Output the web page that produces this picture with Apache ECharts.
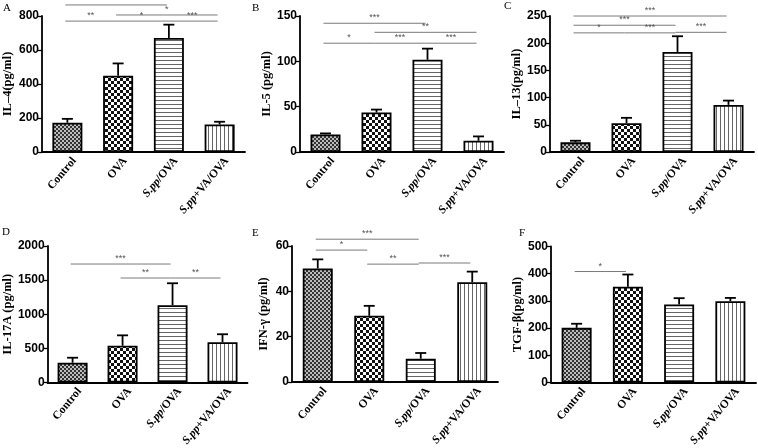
<!DOCTYPE html>
<html><head><meta charset="utf-8">
<script src="https://cdn.jsdelivr.net/npm/echarts@6/dist/echarts.min.js"></script>
<style>html,body{margin:0;padding:0;background:#fff}#c{width:758px;height:448px}</style>
</head><body><div id="c"></div>
<script>
// ---- data ----
const categories = ['Control', 'OVA', 'S.pp/OVA', 'S.pp+VA/OVA'];
const panelLetters = ['A', 'B', 'C', 'D', 'E', 'F'];
const yTitles = ['IL–4(pg/ml)', 'IL-5 (pg/ml)', 'IL–13(pg/ml)', 'IL-17A (pg/ml)', 'IFN-γ (pg/ml)', 'TGF-β(pg/ml)'];
const yMax = [800, 150, 250, 2000, 60, 500];
const yStep = [200, 50, 50, 500, 20, 100];

const il4Mean = [172, 449, 671, 162];
const il4Sem = [23, 72, 78, 16];
const il5Mean = [19.4, 43.5, 101.7, 12.4];
const il5Sem = [1.1, 3.3, 12.3, 4.8];
const il13Mean = [17.7, 53, 184, 86.6];
const il13Sem = [3, 9.8, 28.8, 7.9];
const il17Mean = [289, 539, 1132, 590];
const il17Sem = [74, 152, 322, 117];
const ifngMean = [50.1, 29.2, 10.3, 44];
const ifngSem = [4, 4.4, 2.5, 4.7];
const tgfbMean = [201, 352, 287, 299];
const tgfbSem = [15, 45, 23, 12];

// significance brackets: [fromCategory, toCategory, yValue, stars]
const il4Sig = [[0, 2, 865, '***'], [1, 3, 806, '*'], [0, 1, 770, '**'], [1, 2, 770, '*'], [2, 3, 770, '***']];
const il5Sig = [[0, 2, 142, '***'], [1, 3, 132, '**'], [0, 1, 120, '*'], [1, 2, 120, '***'], [2, 3, 120, '***']];
const il13Sig = [[0, 3, 250, '***'], [0, 2, 233, '***'], [0, 1, 219, '*'], [1, 2, 219, '***'], [2, 3, 220, '***']];
const il17Sig = [[0, 2, 1736, '***'], [1, 2, 1531, '**'], [2, 3, 1531, '**']];
const ifngSig = [[0, 2, 63, '***'], [0, 1, 58.2, '*'], [1, 2, 52, '**'], [2, 3, 52.5, '***']];
const tgfbSig = [[0, 1, 408, '*']];

const means = [il4Mean, il5Mean, il13Mean, il17Mean, ifngMean, tgfbMean];
const sems = [il4Sem, il5Sem, il13Sem, il17Sem, ifngSem, tgfbSem];
const sigs = [il4Sig, il5Sig, il13Sig, il17Sig, ifngSig, tgfbSig];

// ---- layout ----
const grids = [
  {left: 40, top: 16, width: 205, height: 136},
  {left: 300, top: 16, width: 204, height: 136},
  {left: 550, top: 16, width: 204, height: 136},
  {left: 41.5, top: 246, width: 206, height: 136.5},
  {left: 292, top: 246, width: 206, height: 136},
  {left: 551, top: 246.5, width: 205, height: 136}
];
const nameGaps = [28, 27, 24, 31, 22, 24];
const letterPos = [[3, 3], [252, 3], [504, 1], [2, 227], [252, 228], [519, 228]];

// ---- patterns ----
function makePattern(kind) {
  const c = document.createElement('canvas');
  let ctx;
  if (kind === 'fine') {
    c.width = 4; c.height = 4; ctx = c.getContext('2d');
    ctx.fillStyle = '#bdbdbd'; ctx.fillRect(0, 0, 4, 4);
    ctx.fillStyle = '#333333'; ctx.fillRect(0, 0, 2, 2); ctx.fillRect(2, 2, 2, 2);
  } else if (kind === 'check') {
    c.width = 6; c.height = 6; ctx = c.getContext('2d');
    ctx.fillStyle = '#ffffff'; ctx.fillRect(0, 0, 6, 6);
    ctx.fillStyle = '#111111'; ctx.fillRect(0, 0, 3, 3); ctx.fillRect(3, 3, 3, 3);
  } else if (kind === 'h') {
    c.width = 4; c.height = 4; ctx = c.getContext('2d');
    ctx.fillStyle = '#ffffff'; ctx.fillRect(0, 0, 4, 4);
    ctx.fillStyle = '#666666'; ctx.fillRect(0, 0, 4, 1);
  } else {
    c.width = 4; c.height = 4; ctx = c.getContext('2d');
    ctx.fillStyle = '#ffffff'; ctx.fillRect(0, 0, 4, 4);
    ctx.fillStyle = '#666666'; ctx.fillRect(0, 0, 1, 4);
  }
  return {image: c, repeat: 'repeat'};
}
const patterns = [makePattern('fine'), makePattern('check'), makePattern('h'), makePattern('v')];

const serif = 'Liberation Serif';
const sans = 'Liberation Sans';
const labelRich = {
  i: {fontFamily: serif, fontWeight: 'bold', fontStyle: 'italic', fontSize: 11.5, fill: '#000', color: '#000'},
  b: {fontFamily: serif, fontWeight: 'bold', fontSize: 11.5, fill: '#000', color: '#000'}
};
function labelText(v) {
  return v.startsWith('S.pp') ? '{i|S.pp}{b|' + v.slice(4) + '}' : '{b|' + v + '}';
}

const chart = echarts.init(document.getElementById('c'), null, {renderer: 'canvas'});

const grid = [], xAxis = [], yAxis = [], series = [], graphic = [];
for (let p = 0; p < 6; p++) {
  grid.push(Object.assign({containLabel: false}, grids[p]));
  xAxis.push({
    type: 'category', gridIndex: p, data: categories,
    axisLine: {lineStyle: {color: '#000', width: 1.8}},
    axisTick: {alignWithLabel: true, length: 4, lineStyle: {color: '#000', width: 1.3}},
    axisLabel: {show: false}
  });
  yAxis.push({
    type: 'value', gridIndex: p, min: 0, max: yMax[p], interval: yStep[p],
    name: yTitles[p], nameLocation: 'middle', nameGap: nameGaps[p],
    nameTextStyle: {fontFamily: serif, fontWeight: 'bold', fontSize: 12.5, color: '#000'},
    axisLine: {show: true, lineStyle: {color: '#000', width: 1.8}},
    axisTick: {show: true, length: 4, lineStyle: {color: '#000', width: 1.3}},
    axisLabel: {fontFamily: sans, fontWeight: 'bold', fontSize: 12, color: '#000', margin: 3,
      formatter: v => String(v)},
    splitLine: {show: false}
  });
  const m = means[p], s = sems[p], sg = sigs[p];
  series.push({
    type: 'bar', xAxisIndex: p, yAxisIndex: p, barWidth: 30, animation: false,
    data: m.map((v, i) => ({value: v, itemStyle: {color: patterns[i]}})),
    itemStyle: {borderColor: '#000', borderWidth: 1.8}
  });
  series.push({
    type: 'custom', xAxisIndex: p, yAxisIndex: p, clip: false, animation: false, z: 5,
    data: m.map((v, i) => [i, v, v + s[i]]),
    encode: {x: 0, y: [1, 2]},
    renderItem: (params, api) => {
      const a = api.coord([api.value(0), api.value(1)]);
      const b = api.coord([api.value(0), api.value(2)]);
      const st = {stroke: '#000', lineWidth: 1.8};
      return {type: 'group', children: [
        {type: 'line', shape: {x1: a[0], y1: a[1], x2: b[0], y2: b[1]}, style: st},
        {type: 'line', shape: {x1: b[0] - 5.5, y1: b[1], x2: b[0] + 5.5, y2: b[1]}, style: st}
      ]};
    }
  });
  series.push({
    type: 'custom', xAxisIndex: p, yAxisIndex: p, clip: false, animation: false, z: 6,
    data: sg.map(d => [d[0], d[1], d[2]]),
    encode: {x: [0, 1], y: 2},
    renderItem: (params, api) => {
      const a = api.coord([api.value(0), api.value(2)]);
      const b = api.coord([api.value(1), api.value(2)]);
      const x1 = a[0] - 2, x2 = b[0] - 2, y = a[1];
      return {type: 'group', children: [
        {type: 'line', shape: {x1: x1, y1: y, x2: x2, y2: y}, style: {stroke: '#7a7a7a', lineWidth: 1}},
        {type: 'text', x: (x1 + x2) / 2, y: y - 1,
         style: {text: sg[params.dataIndex][3], fill: '#555', font: '9px ' + sans, textAlign: 'center', textVerticalAlign: 'bottom'}}
      ]};
    }
  });
  // category labels, rotated, placed from the category axis scale
  series.push({
    type: 'custom', xAxisIndex: p, yAxisIndex: p, clip: false, animation: false, z: 6,
    data: categories.map((c, i) => [i, 0]),
    encode: {x: 0, y: 1},
    renderItem: (params, api) => {
      const pt = api.coord([api.value(0), 0]);
      return {type: 'text', x: pt[0] + 7, y: pt[1] + 7, rotation: 50 * Math.PI / 180,
        style: {text: labelText(categories[params.dataIndex]), rich: labelRich,
          fill: '#000', textAlign: 'right', textVerticalAlign: 'middle',
          font: 'bold 11.5px ' + serif}};
    }
  });
  graphic.push({type: 'text', left: letterPos[p][0], top: letterPos[p][1],
    style: {text: panelLetters[p], font: '11px ' + serif, fill: '#000'}});
}

chart.setOption({animation: false, grid, xAxis, yAxis, series, graphic});
</script>
</body></html>
